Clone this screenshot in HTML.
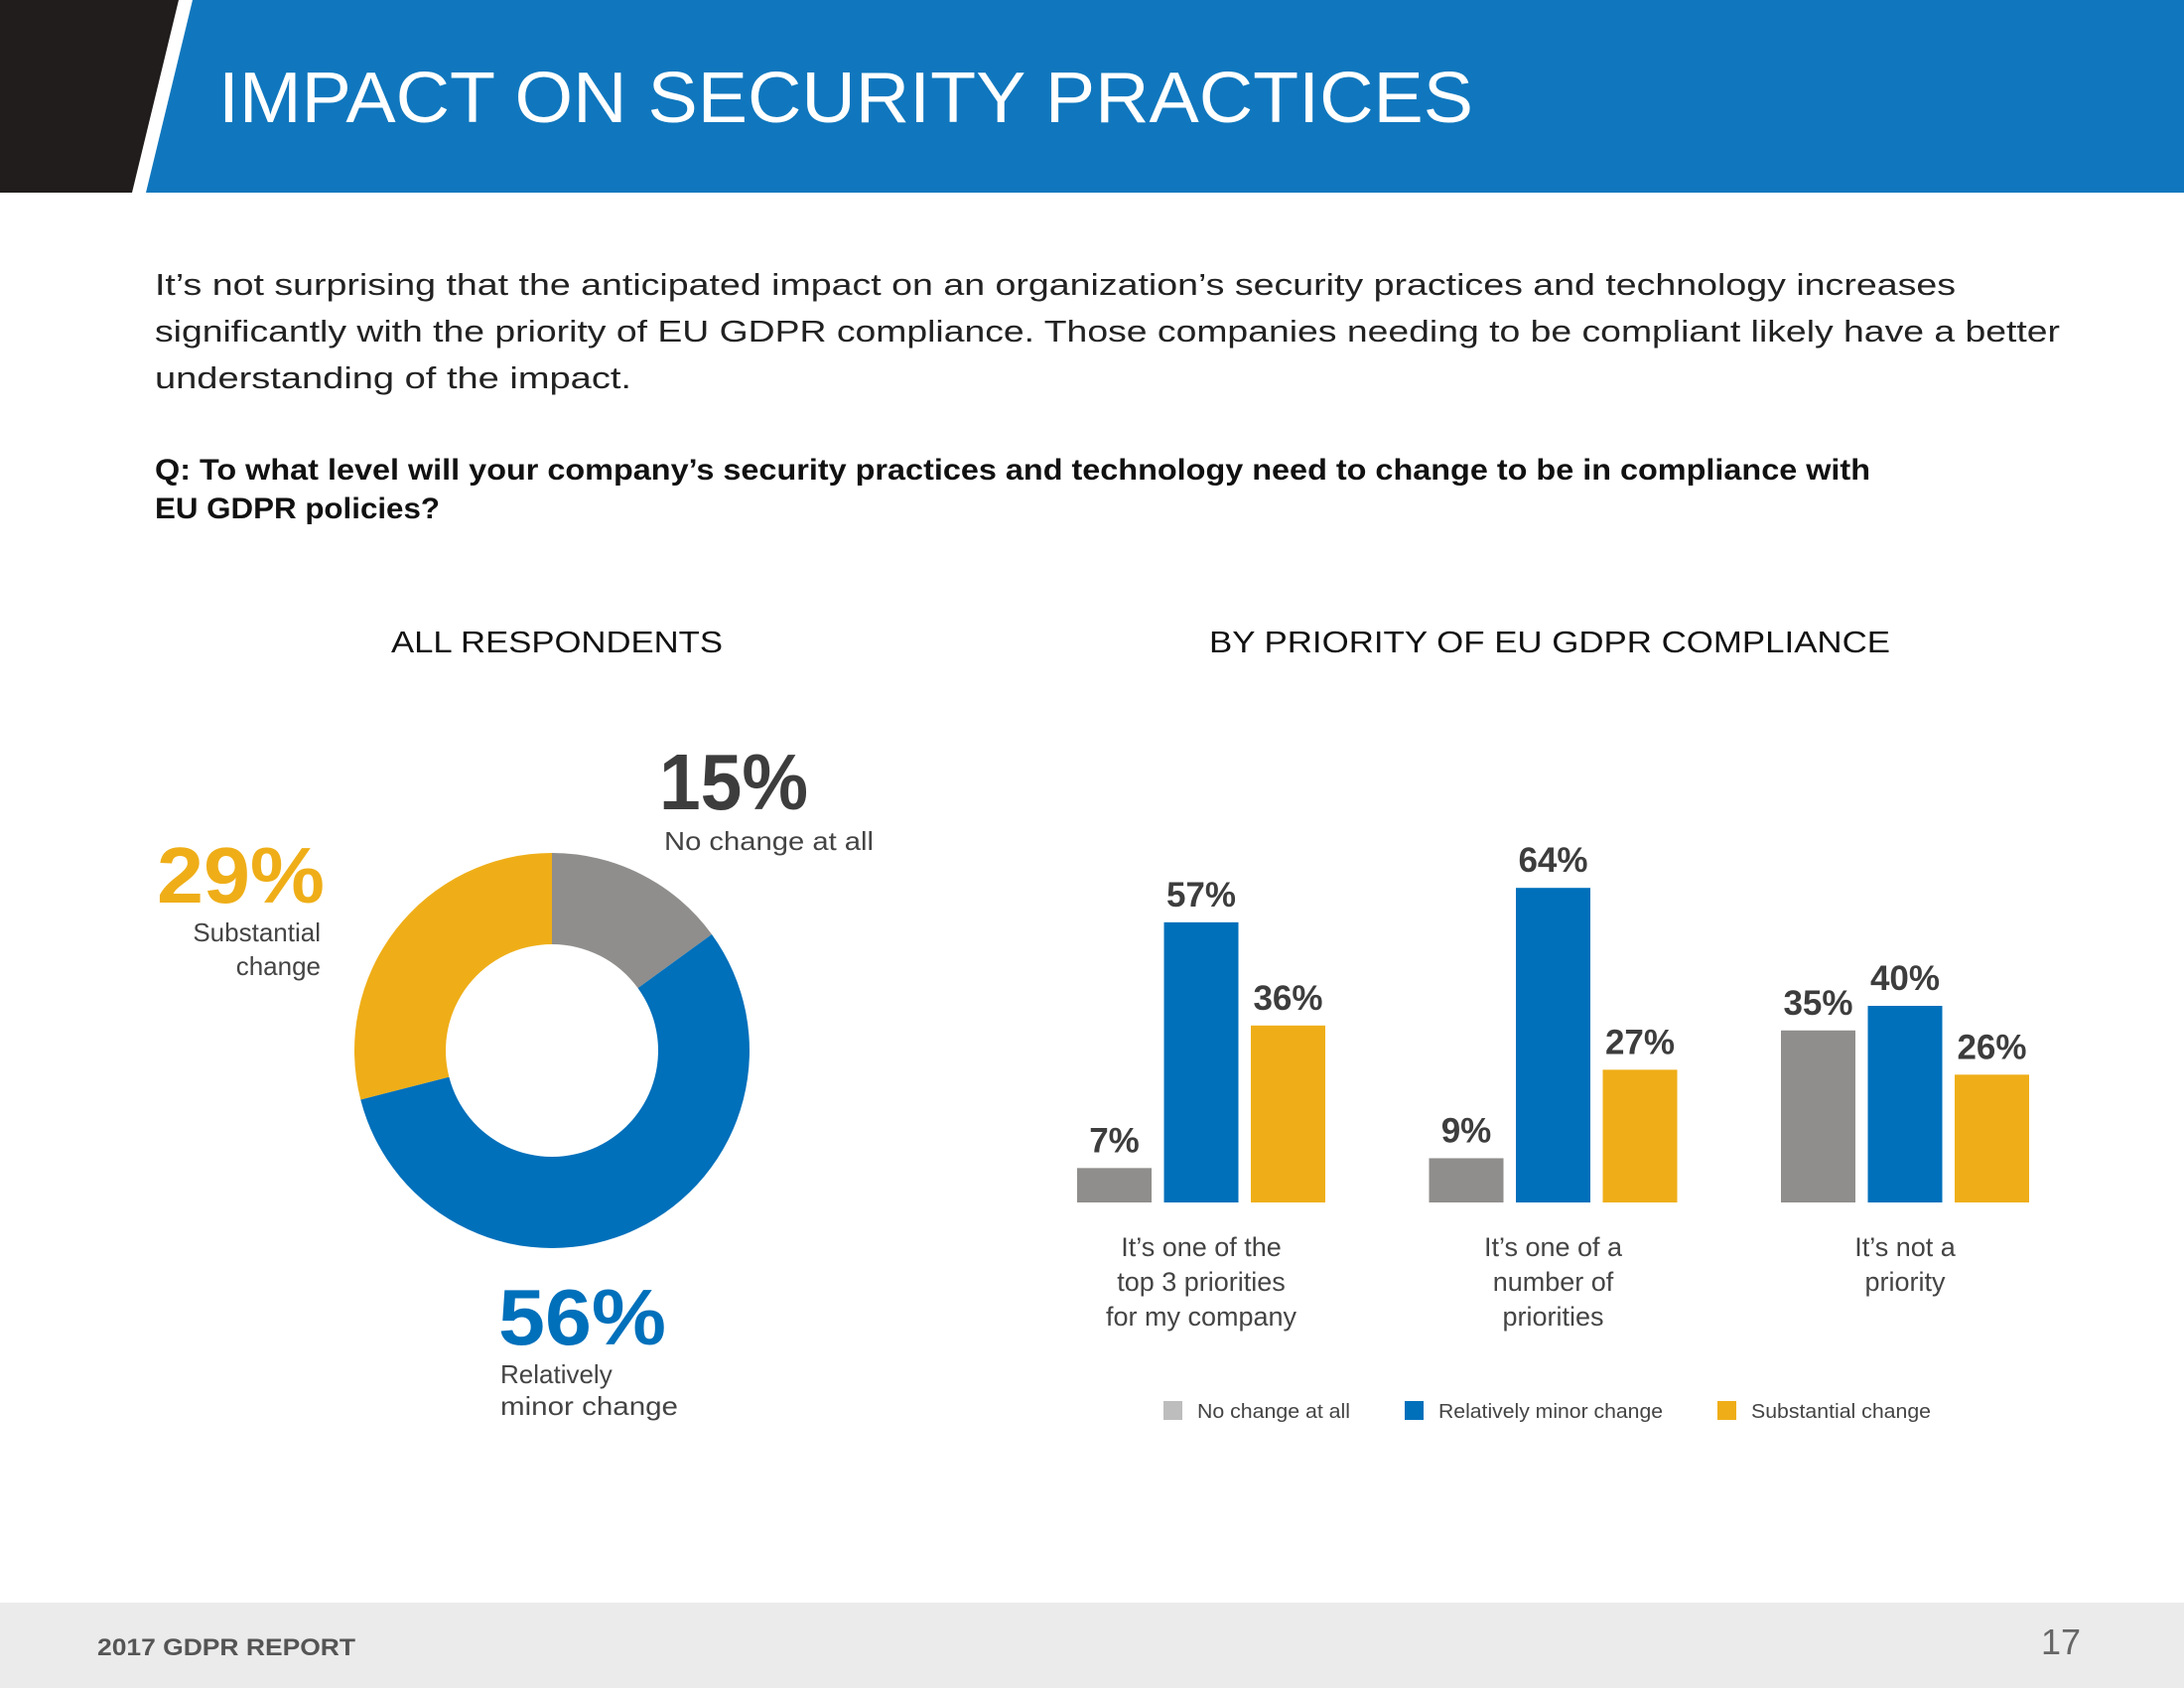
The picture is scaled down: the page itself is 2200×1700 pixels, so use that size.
<!DOCTYPE html>
<html><head><meta charset="utf-8"><style>
html,body{margin:0;padding:0;background:#fff}
svg{display:block}
text{font-family:"Liberation Sans",sans-serif}
</style></head><body>
<svg id="page" width="2200" height="1700" viewBox="0 0 2200 1700" xmlns="http://www.w3.org/2000/svg">
  <g>
    <polygon points="0,0 180,0 133,194 0,194" fill="#211d1c"/>
    <polygon points="194,0 2200,0 2200,194 147,194" fill="#1077be"/>
    <text x="220" y="123" font-size="72" fill="#fff" textLength="1264" lengthAdjust="spacingAndGlyphs">IMPACT ON SECURITY PRACTICES</text>
  </g>
  <g fill="#222" font-size="31">
    <text x="156" y="297" textLength="1814" lengthAdjust="spacingAndGlyphs">It’s not surprising that the anticipated impact on an organization’s security practices and technology increases</text>
    <text x="156" y="344" textLength="1919" lengthAdjust="spacingAndGlyphs">significantly with the priority of EU GDPR compliance. Those companies needing to be compliant likely have a better</text>
    <text x="156" y="391" textLength="480" lengthAdjust="spacingAndGlyphs">understanding of the impact.</text>
  </g>
  <g fill="#111" font-size="30" font-weight="bold">
    <text x="156" y="483" textLength="1728" lengthAdjust="spacingAndGlyphs">Q: To what level will your company’s security practices and technology need to change to be in compliance with</text>
    <text x="156" y="522" textLength="287" lengthAdjust="spacingAndGlyphs">EU GDPR policies?</text>
  </g>
  <text x="394" y="657" font-size="31" fill="#111" textLength="334" lengthAdjust="spacingAndGlyphs">ALL RESPONDENTS</text>
  <text x="1218" y="657" font-size="31" fill="#111" textLength="686" lengthAdjust="spacingAndGlyphs">BY PRIORITY OF EU GDPR COMPLIANCE</text>

  <g id="donut"></g>
  <g>
    <text x="664" y="815" font-size="80" font-weight="bold" fill="#3d3d3d" textLength="150" lengthAdjust="spacingAndGlyphs">15%</text>
    <text x="669" y="856" font-size="26" fill="#444" textLength="211" lengthAdjust="spacingAndGlyphs">No change at all</text>
    <text x="158" y="909" font-size="80" font-weight="bold" fill="#efae18" textLength="169" lengthAdjust="spacingAndGlyphs">29%</text>
    <text x="323" y="948" font-size="26" fill="#444" text-anchor="end">Substantial</text>
    <text x="323" y="982" font-size="26" fill="#444" text-anchor="end">change</text>
    <text x="502" y="1354" font-size="80" font-weight="bold" fill="#0070bb" textLength="169" lengthAdjust="spacingAndGlyphs">56%</text>
    <text x="504" y="1393" font-size="26" fill="#444">Relatively</text>
    <text x="504" y="1425" font-size="26" fill="#444" textLength="179" lengthAdjust="spacingAndGlyphs">minor change</text>
  </g>

  <g id="bars"></g>
  <g id="legend"></g>

  <g>
    <rect x="0" y="1614" width="2200" height="86" fill="#ebebeb"/>
    <text x="98" y="1667" font-size="24" font-weight="bold" fill="#555" textLength="260" lengthAdjust="spacingAndGlyphs">2017 GDPR REPORT</text>
    <text x="2096" y="1666" font-size="36" fill="#666" text-anchor="end">17</text>
  </g>
</svg>
<script>
const NS = "http://www.w3.org/2000/svg";
const donutValues = [15, 56, 29];
const donutNames = ["no-change", "minor-change", "substantial-change"];
const seriesColors = ["#8f8e8c", "#0070bb", "#efae18"];
const categories = [["It’s one of the", "top 3 priorities", "for my company"], ["It’s one of a", "number of", "priorities"], ["It’s not a", "priority"]];
const noChange = [7, 9, 35];
const minorChange = [57, 64, 40];
const substantialChange = [36, 27, 26];
const seriesNames = ["No change at all", "Relatively minor change", "Substantial change"];

// donut
(function () {
  const g = document.getElementById("donut");
  const cx = 556, cy = 1058, R = 199, r = 107;
  const total = donutValues.reduce((a, b) => a + b, 0);
  let acc = 0;
  donutValues.forEach((v, i) => {
    const a0 = acc / total * 2 * Math.PI, a1 = (acc + v) / total * 2 * Math.PI;
    acc += v;
    const p = (rad, a) => [cx + rad * Math.sin(a), cy - rad * Math.cos(a)];
    const large = a1 - a0 > Math.PI ? 1 : 0;
    const [x0, y0] = p(R, a0), [x1, y1] = p(R, a1), [x2, y2] = p(r, a1), [x3, y3] = p(r, a0);
    const path = document.createElementNS(NS, "path");
    path.setAttribute("d", `M${x0},${y0} A${R},${R} 0 ${large} 1 ${x1},${y1} L${x2},${y2} A${r},${r} 0 ${large} 0 ${x3},${y3} Z`);
    path.setAttribute("fill", seriesColors[i]);
    
    
    g.appendChild(path);
  });
})();

// bars
(function () {
  const g = document.getElementById("bars");
  const baseY = 1211, perPct = 4.95;
  const groupX0 = 1085, groupStep = 354.5, barW = 75, barStep = 87.5;
  const yOf = v => baseY - v * perPct;
  const series = [noChange, minorChange, substantialChange];
  categories.forEach((cat, ci) => {
    const gx = groupX0 + ci * groupStep;
    series.forEach((s, si) => {
      const v = s[ci];
      const x = gx + si * barStep;
      const rect = document.createElementNS(NS, "rect");
      rect.setAttribute("x", x); rect.setAttribute("y", yOf(v));
      rect.setAttribute("width", barW); rect.setAttribute("height", baseY - yOf(v));
      rect.setAttribute("fill", seriesColors[si]);
      
      
      g.appendChild(rect);
      const t = document.createElementNS(NS, "text");
      t.setAttribute("x", x + barW / 2); t.setAttribute("y", yOf(v) - 16);
      t.setAttribute("text-anchor", "middle"); t.setAttribute("font-size", "35");
      t.setAttribute("font-weight", "bold"); t.setAttribute("fill", "#3d3d3d");
      t.textContent = v + "%";
      
      
      g.appendChild(t);
    });
    const cxm = gx + barStep + barW / 2;
    cat.forEach((line, li) => {
      const t = document.createElementNS(NS, "text");
      t.setAttribute("x", cxm); t.setAttribute("y", 1265 + li * 35);
      t.setAttribute("text-anchor", "middle"); t.setAttribute("font-size", "27");
      t.setAttribute("fill", "#444");
      t.textContent = line;
      
      
      g.appendChild(t);
    });
  });
  const lg = document.getElementById("legend");
  const lx = [1172, 1415, 1730];
  const lw = [154, 226, 181];
  const lcol = ["#bdbdbd", "#0070bb", "#efae18"];
  seriesNames.forEach((n, i) => {
    const r = document.createElementNS(NS, "rect");
    r.setAttribute("x", lx[i]); r.setAttribute("y", 1411);
    r.setAttribute("width", 19); r.setAttribute("height", 19);
    r.setAttribute("fill", lcol[i]);
    
    
    lg.appendChild(r);
    const t = document.createElementNS(NS, "text");
    t.setAttribute("x", lx[i] + 34); t.setAttribute("y", 1428);
    t.setAttribute("font-size", "20"); t.setAttribute("fill", "#444");
    t.setAttribute("textLength", lw[i]); t.setAttribute("lengthAdjust", "spacingAndGlyphs");
    t.textContent = n;
    
    
    lg.appendChild(t);
  });
})();
</script>
</body></html>
